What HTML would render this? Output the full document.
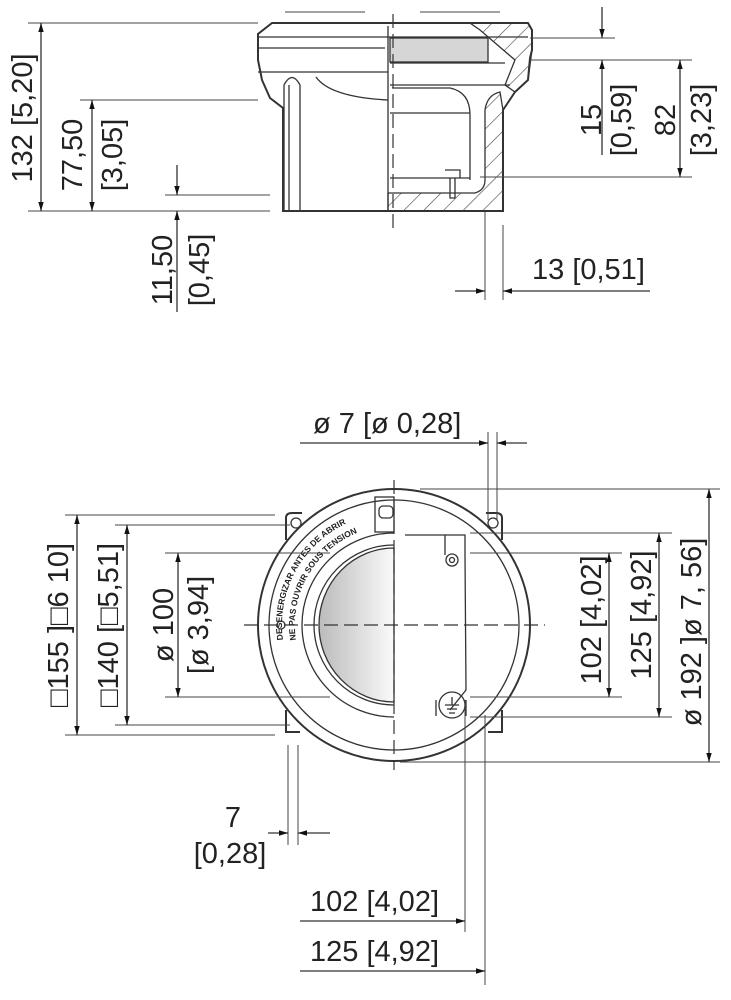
<!DOCTYPE html>
<html><head><meta charset="utf-8"><style>
html,body{margin:0;padding:0;background:#fff}
svg{display:block}
text{font-family:"Liberation Sans",sans-serif;font-size:29px;fill:#222}
.l{stroke:#333;stroke-width:1.3;fill:none}
.t{stroke:#333;stroke-width:2;fill:none}
.d{stroke:#333;stroke-width:1.2;fill:none;stroke-dasharray:14 6}
.h{stroke:#444;stroke-width:1;fill:none}
.s{font-size:8.5px;font-weight:bold}
</style></head><body>
<svg width="731" height="1000" viewBox="0 0 731 1000" xmlns="http://www.w3.org/2000/svg">
<defs>
<marker id="a" viewBox="0 0 10 10" refX="10" refY="5" markerWidth="9" markerHeight="9" orient="auto-start-reverse" markerUnits="userSpaceOnUse"><path d="M0,2 L10,5 L0,8 z" fill="#111"/></marker>
<linearGradient id="g" x1="0" x2="1"><stop offset="0" stop-color="#bbb"/><stop offset="1" stop-color="#fafafa"/></linearGradient>
<pattern id="hp" width="14" height="14" patternUnits="userSpaceOnUse" patternTransform="rotate(45)"><line x1="0" y1="0" x2="0" y2="14" stroke="#444" stroke-width="1.2"/></pattern>
<path id="arc1" d="M283,640 A112,112 0 0 1 390,513"/>
<path id="arc2" d="M296,640 A99,99 0 0 1 390,526"/>
</defs>

<!-- ===== TOP VIEW ===== -->
<g>
<path class="t" d="M272,23 L528,23 L532,30 L532,50 L530,58 L528,80 L515,92 L503,110 L503,211 L283,211 L283,108 L270,98 L262,80 L258,60 L258,34 Z"/>
<line class="l" x1="258" y1="37" x2="528" y2="37"/>
<line class="l" x1="258" y1="48" x2="385" y2="48"/>
<line class="l" x1="258" y1="72" x2="388" y2="72"/>
<line class="l" x1="388" y1="26" x2="388" y2="211"/>
<path class="l" d="M284,210 L284,85 Q292,70 300,85 L300,210"/>
<line class="l" x1="289" y1="85" x2="289" y2="210"/>
<path class="l" d="M316,77 Q330,97 388,100"/>
<rect x="390" y="38" width="98" height="24" fill="#d6d6d6" stroke="#333" stroke-width="1.3"/>
<line class="l" x1="390" y1="63" x2="505" y2="63"/>
<line class="l" x1="390" y1="85" x2="510" y2="85"/>
<path class="l" d="M392,88 L450,88 Q470,92 470,115 L470,180"/>
<line class="l" x1="390" y1="113" x2="470" y2="113"/>
<line class="l" x1="390" y1="178" x2="470" y2="178"/>
<path class="l" d="M445,170 L460,170 L460,178 M450,178 L450,198 L455,198 L455,178"/>
<path fill="url(#hp)" stroke="#333" stroke-width="1.3" d="M388,193 L475,193 Q485,190 485,180 L485,110 Q487,95 500,92 L503,110 L503,211 L388,211 Z"/>
<path fill="url(#hp)" stroke="#333" stroke-width="1.3" d="M470,23 L528,23 L532,30 L532,50 L528,80 L515,92 L505,85 L515,60 L480,30 Z"/>
<line class="d" x1="393" y1="14" x2="393" y2="230"/>
<line class="h" x1="285" y1="12" x2="365" y2="12"/>
<line class="h" x1="420" y1="12" x2="500" y2="12"/>
</g>

<!-- top dims left -->
<line class="h" x1="28" y1="23" x2="258" y2="23"/>
<line class="h" x1="28" y1="211" x2="270" y2="211"/>
<line class="l" x1="41" y1="23" x2="41" y2="211" marker-start="url(#a)" marker-end="url(#a)"/>
<text transform="translate(32,118) rotate(-90)" text-anchor="middle">132 [5,20]</text>
<line class="h" x1="80" y1="100" x2="258" y2="100"/>
<line class="l" x1="92" y1="100" x2="92" y2="211" marker-start="url(#a)" marker-end="url(#a)"/>
<text transform="translate(82,155) rotate(-90)" text-anchor="middle">77,50</text>
<text transform="translate(122,155) rotate(-90)" text-anchor="middle">[3,05]</text>
<line class="h" x1="165" y1="195" x2="270" y2="195"/>
<line class="l" x1="177" y1="165" x2="177" y2="195" marker-end="url(#a)"/>
<line class="l" x1="177" y1="312" x2="177" y2="211" marker-end="url(#a)"/>
<text transform="translate(172,270) rotate(-90)" text-anchor="middle">11,50</text>
<text transform="translate(209,270) rotate(-90)" text-anchor="middle">[0,45]</text>

<!-- top dims right -->
<line class="h" x1="530" y1="38" x2="615" y2="38"/>
<line class="h" x1="530" y1="60" x2="692" y2="60"/>
<line class="h" x1="480" y1="177" x2="692" y2="177"/>
<line class="l" x1="602" y1="7" x2="602" y2="38" marker-end="url(#a)"/>
<line class="l" x1="602" y1="155" x2="602" y2="60" marker-end="url(#a)"/>
<text transform="translate(601,120) rotate(-90)" text-anchor="middle">15</text>
<text transform="translate(631,120) rotate(-90)" text-anchor="middle">[0,59]</text>
<line class="l" x1="680" y1="60" x2="680" y2="177" marker-start="url(#a)" marker-end="url(#a)"/>
<text transform="translate(675,120) rotate(-90)" text-anchor="middle">82</text>
<text transform="translate(711,120) rotate(-90)" text-anchor="middle">[3,23]</text>
<line class="h" x1="485" y1="212" x2="485" y2="300"/>
<line class="h" x1="503" y1="225" x2="503" y2="300"/>
<line class="l" x1="455" y1="291" x2="485" y2="291" marker-end="url(#a)"/>
<line class="l" x1="650" y1="291" x2="503" y2="291" marker-end="url(#a)"/>
<text x="532" y="279">13 [0,51]</text>

<!-- ===== FRONT VIEW ===== -->
<g>
<path class="t" d="M286,540 L286,518 Q286,513 292,513 L302,513"/>
<path class="t" d="M502,540 L502,518 Q502,513 496,513 L486,513"/>
<path class="t" d="M286,710 L286,732 L300,732"/>
<path class="t" d="M502,710 L502,732 L488,732"/>
<circle cx="394" cy="625" r="136" fill="#fff" stroke="#333" stroke-width="2"/>
<circle cx="394" cy="625" r="125" class="l"/>
<circle cx="296" cy="523" r="5" class="l"/>
<circle cx="493" cy="523" r="5" class="l"/>
<path class="l" d="M394,545 A80,80 0 0 0 394,705"/>
<path d="M394,548 A75,77 0 0 0 394,702 Z" fill="url(#g)" stroke="#333" stroke-width="1.3"/>
<path class="l" d="M394,533 A92,92 0 0 0 394,717"/>
<rect x="375" y="497" width="19" height="35" class="l"/>
<rect x="379" y="506" width="14" height="12" rx="4" class="l"/>
<text class="s"><textPath href="#arc1">DESENERGIZAR ANTES DE ABRIR</textPath></text>
<text class="s"><textPath href="#arc2">NE PAS OUVRIR SOUS TENSION</textPath></text>
<circle cx="281" cy="625" r="4" class="l"/>
<path class="l" d="M445,535 L465,535 L465,555 L466,690 L450,710"/>
<path class="l" d="M405,535 L445,535 L445,555"/>
<circle cx="452" cy="560" r="6" class="l"/><circle cx="452" cy="560" r="2.5" class="l"/>
<circle cx="452" cy="705" r="13" class="l"/>
<path class="l" d="M452,697 L452,705 M445,705 L459,705 M447,709 L457,709 M449,713 L455,713"/>
<path class="l" d="M436,716 L436,700 M466,716 L466,700"/>
<line class="d" x1="394" y1="480" x2="394" y2="770"/>
<line class="d" x1="244" y1="625" x2="545" y2="625"/>
</g>

<!-- bottom dims -->
<text x="313" y="433">ø 7 [ø 0,28]</text>
<line class="h" x1="488" y1="432" x2="488" y2="520"/>
<line class="h" x1="497" y1="432" x2="497" y2="520"/>
<line class="l" x1="300" y1="443" x2="488" y2="443" marker-end="url(#a)"/>
<line class="l" x1="527" y1="443" x2="497" y2="443" marker-end="url(#a)"/>

<line class="h" x1="420" y1="489" x2="720" y2="489"/>
<line class="h" x1="400" y1="762" x2="720" y2="762"/>
<line class="l" x1="709" y1="489" x2="709" y2="762" marker-start="url(#a)" marker-end="url(#a)"/>
<text transform="translate(701,632) rotate(-90)" text-anchor="middle">ø 192 ]ø 7, 56]</text>
<line class="h" x1="470" y1="533" x2="672" y2="533"/>
<line class="h" x1="470" y1="717" x2="672" y2="717"/>
<line class="l" x1="659" y1="533" x2="659" y2="717" marker-start="url(#a)" marker-end="url(#a)"/>
<text transform="translate(651,615) rotate(-90)" text-anchor="middle">125 [4,92]</text>
<line class="h" x1="470" y1="553" x2="622" y2="553"/>
<line class="h" x1="470" y1="697" x2="622" y2="697"/>
<line class="l" x1="609" y1="553" x2="609" y2="697" marker-start="url(#a)" marker-end="url(#a)"/>
<text transform="translate(601,620) rotate(-90)" text-anchor="middle">102 [4,02]</text>

<line class="h" x1="65" y1="515" x2="275" y2="515"/>
<line class="h" x1="65" y1="735" x2="275" y2="735"/>
<line class="l" x1="77" y1="515" x2="77" y2="735" marker-start="url(#a)" marker-end="url(#a)"/>
<text transform="translate(68,625) rotate(-90)" text-anchor="middle">□155 ]□6 10]</text>
<line class="h" x1="115" y1="525" x2="290" y2="525"/>
<line class="h" x1="115" y1="725" x2="290" y2="725"/>
<line class="l" x1="127" y1="525" x2="127" y2="725" marker-start="url(#a)" marker-end="url(#a)"/>
<text transform="translate(118,625) rotate(-90)" text-anchor="middle">□140 [□5,51]</text>
<line class="h" x1="165" y1="553" x2="330" y2="553"/>
<line class="h" x1="165" y1="697" x2="330" y2="697"/>
<line class="l" x1="178" y1="553" x2="178" y2="697" marker-start="url(#a)" marker-end="url(#a)"/>
<text transform="translate(173,625) rotate(-90)" text-anchor="middle">ø 100</text>
<text transform="translate(208,625) rotate(-90)" text-anchor="middle">[ø 3,94]</text>

<line class="h" x1="288" y1="745" x2="288" y2="845"/>
<line class="h" x1="298" y1="745" x2="298" y2="845"/>
<line class="l" x1="268" y1="833" x2="288" y2="833" marker-end="url(#a)"/>
<line class="l" x1="330" y1="833" x2="298" y2="833" marker-end="url(#a)"/>
<text x="233" y="827" text-anchor="middle">7</text>
<text x="230" y="863" text-anchor="middle">[0,28]</text>

<line class="h" x1="465" y1="700" x2="465" y2="932"/>
<line class="h" x1="485" y1="715" x2="485" y2="985"/>
<text x="310" y="911">102 [4,02]</text>
<line class="l" x1="300" y1="921" x2="465" y2="921" marker-end="url(#a)"/>
<text x="310" y="961">125 [4,92]</text>
<line class="l" x1="300" y1="971" x2="485" y2="971" marker-end="url(#a)"/>
</svg>
</body></html>
